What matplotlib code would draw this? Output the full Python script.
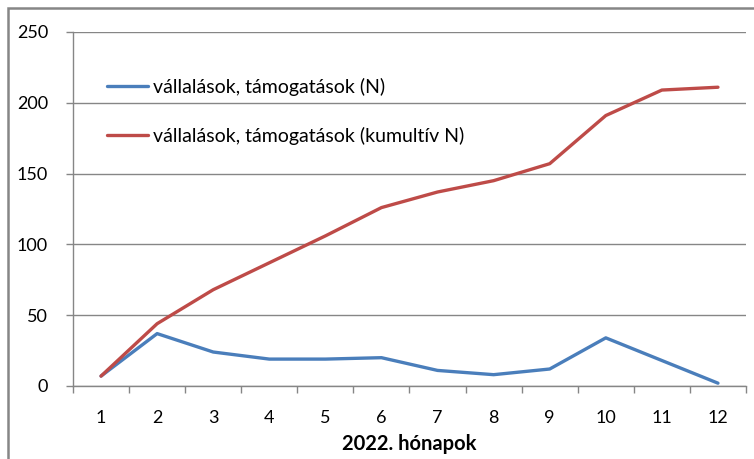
import matplotlib
matplotlib.use("Agg")
import matplotlib.pyplot as plt
from matplotlib.patches import Rectangle
from matplotlib.ticker import FixedLocator

months = [1, 2, 3, 4, 5, 6, 7, 8, 9, 10, 11, 12]
monthly = [7, 37, 24, 19, 19, 20, 11, 8, 12, 34, 18, 2]
cumulative = [7, 44, 68, 87, 106, 126, 137, 145, 157, 191, 209, 211]
label_monthly = "vállalások, támogatások (N)"
label_cum = "vállalások, támogatások (kumultív N)"
xlabel = "2022. hónapok"
yticks = [0, 50, 100, 150, 200, 250]

plt.rcParams['font.family'] = ['Lato', 'DejaVu Sans']

W, H = 754, 459
fig = plt.figure(figsize=(W / 100, H / 100), dpi=100)
ax = fig.add_axes([73 / W, 1 - 386 / H, (746 - 73) / W, (386 - 32) / H])

ax.plot(months, monthly, color='#4A7EBB', lw=2.4, solid_capstyle='round', solid_joinstyle='round', label=label_monthly)
ax.plot(months, cumulative, color='#BE4B48', lw=2.4, solid_capstyle='round', solid_joinstyle='round', label=label_cum)

ax.set_xlim(0.5, 12.5)
ax.set_ylim(0, 250)
ax.set_yticks(yticks)
ax.set_xticks(months)
ax.xaxis.set_minor_locator(FixedLocator([m + 0.5 for m in [0] + months]))
ax.tick_params(axis='x', which='major', length=0, pad=17, labelsize=13, colors='#000000')
ax.tick_params(axis='x', which='minor', length=5, color='#868686', width=1)
ax.tick_params(axis='y', length=5, color='#868686', width=1, pad=13, labelsize=13)
ax.grid(axis='y', color='#868686', lw=1)
ax.set_axisbelow(True)
for s in ['top', 'right']:
    ax.spines[s].set_visible(False)
for s in ['left', 'bottom']:
    ax.spines[s].set_color('#868686')
    ax.spines[s].set_linewidth(1)

ax.set_xlabel(xlabel, fontsize=14.5, fontweight='bold', labelpad=6)

leg = ax.legend(loc='upper left', bbox_to_anchor=(0.025, 0.92), frameon=False,
                fontsize=14, handlelength=2.1, handletextpad=0.25, labelspacing=1.6)

fig.patches.append(Rectangle((8 / W, -0.1), 1.2, 1 - 8 / H + 0.1, transform=fig.transFigure,
                             fill=False, edgecolor='#868686', lw=1.8))

fig.savefig('out.png', dpi=100)
